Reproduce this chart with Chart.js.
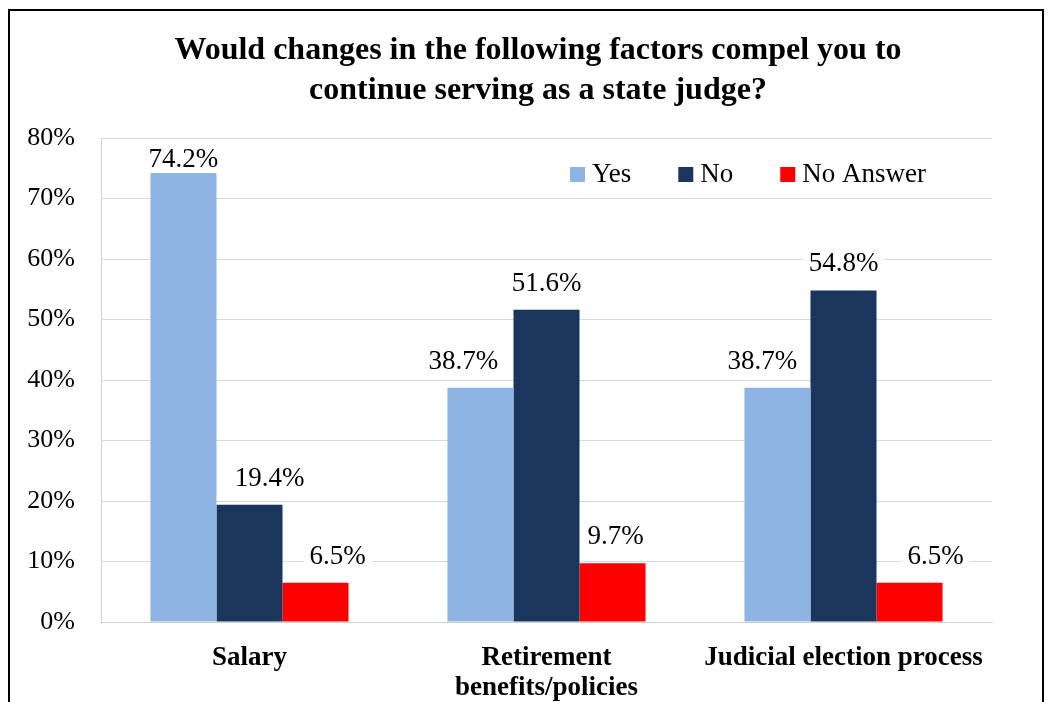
<!DOCTYPE html>
<html>
<head>
<meta charset="utf-8">
<script src="https://cdn.jsdelivr.net/npm/chart.js@4.4.1/dist/chart.umd.min.js"></script>
<style>
  html, body { margin: 0; padding: 0; background: #fff; overflow: hidden; }
  #wrap { position: absolute; left: 0; top: 0; width: 1054px; height: 702px; }
  #frame { position: absolute; left: 8px; top: 9px; width: 1032px; height: 720px; border: 2px solid #000; pointer-events: none; }
</style>
</head>
<body>
<div id="wrap"><canvas id="myChart" width="1054" height="702"></canvas></div>
<div id="frame"></div>
<script>
// data
const categories = ['Salary', ['Retirement', 'benefits/policies'], 'Judicial election process'];
const yesValues = [74.2, 38.7, 38.7];
const noValues = [19.4, 51.6, 54.8];
const noAnswerValues = [6.5, 9.7, 6.5];
const seriesNames = ['Yes', 'No', 'No Answer'];
const seriesColors = ['#8EB4E3', '#1B365D', '#FF0000'];
const yTicks = [0, 10, 20, 30, 40, 50, 60, 70, 80];

const serif = '"Liberation Serif", "Times New Roman", serif';

// label nudges (px) like the hand-moved excel labels
const labelShift = [[0, -17, -15], [20, 0, 0], [22, 3, 26]];

function labelPos(chart, ctx, i, j) {
    const bar = chart.getDatasetMeta(i).data[j];
    const txt = chart.data.datasets[i].data[j].toFixed(1) + '%';
    const w = ctx.measureText(txt).width;
    const x = bar.x + labelShift[i][j];
    const y = Math.max(bar.y - 19, chart.chartArea.top + 29);
    return { txt, w, x, y };
}

// title sits a bit right of the canvas centre in the original
const titleShift = {
    id: 'titleShift',
    afterLayout(chart) {
        if (chart.titleBlock) {
            chart.titleBlock.left = 84;
            chart.titleBlock.right = 992;
        }
    }
};

// value labels, white box first (hides gridline), text after bars
const valueLabels = {
    id: 'valueLabels',
    beforeDatasetsDraw(chart) {
        const ctx = chart.ctx;
        ctx.save();
        ctx.font = '27px ' + serif;
        ctx.fillStyle = '#fff';
        chart.data.datasets.forEach((ds, i) => {
            ds.data.forEach((v, j) => {
                const p = labelPos(chart, ctx, i, j);
                ctx.fillRect(p.x - p.w / 2 - 6, p.y - 22, p.w + 12, 28);
            });
        });
        ctx.restore();
    },
    afterDatasetsDraw(chart) {
        const ctx = chart.ctx;
        ctx.save();
        ctx.font = '27px ' + serif;
        ctx.textAlign = 'center';
        ctx.textBaseline = 'alphabetic';
        ctx.fillStyle = '#000';
        chart.data.datasets.forEach((ds, i) => {
            ds.data.forEach((v, j) => {
                const p = labelPos(chart, ctx, i, j);
                ctx.fillText(p.txt, p.x, p.y);
            });
        });
        ctx.restore();
    }
};

// legend inside the plot, top right
const innerLegend = {
    id: 'innerLegend',
    afterDraw(chart) {
        const ctx = chart.ctx;
        const area = chart.chartArea;
        ctx.save();
        ctx.font = '27px ' + serif;
        ctx.textBaseline = 'middle';
        let x = area.left + 469;
        const y = area.top + 36;
        seriesNames.forEach((name, i) => {
            ctx.fillStyle = seriesColors[i];
            ctx.fillRect(x, y - 7, 15, 15);
            ctx.fillStyle = '#000';
            ctx.fillText(name, x + 22, y + 1);
            x += 22 + ctx.measureText(name).width + 47;
        });
        ctx.restore();
    }
};

const ctx = document.getElementById('myChart').getContext('2d');
const myBarChart = new Chart(ctx, {
    type: 'bar',
    data: {
        labels: categories,
        datasets: [
            { label: seriesNames[0], data: yesValues, backgroundColor: seriesColors[0] },
            { label: seriesNames[1], data: noValues, backgroundColor: seriesColors[1] },
            { label: seriesNames[2], data: noAnswerValues, backgroundColor: seriesColors[2] }
        ]
    },
    options: {
        responsive: false,
        animation: false,
        layout: { padding: { left: 0, right: 62, top: 0, bottom: 0 } },
        datasets: { bar: { categoryPercentage: 0.667, barPercentage: 1.0 } },
        plugins: {
            legend: { display: false },
            tooltip: { enabled: false },
            title: {
                display: true,
                text: ['Would changes in the following factors compel you to', 'continue serving as a state judge?'],
                color: '#000',
                font: { family: serif, size: 32, weight: 'bold', lineHeight: 1.25 },
                padding: { top: 31, bottom: 27 }
            }
        },
        scales: {
            x: {
                grid: { display: false, drawTicks: false },
                border: { display: true, color: '#D0D0D0', width: 1 },
                ticks: {
                    color: '#000',
                    font: { family: serif, size: 27, weight: 'bold', lineHeight: 1.12 },
                    padding: 21,
                    maxRotation: 0,
                    autoSkip: false
                },
                afterFit(scale) { scale.height = 80; }
            },
            y: {
                min: 0,
                max: 80,
                afterBuildTicks(scale) { scale.ticks = yTicks.map(v => ({ value: v })); },
                grid: { color: '#D9D9D9', lineWidth: 1, drawTicks: false },
                border: { display: true, color: '#D0D0D0', width: 1 },
                ticks: {
                    color: '#000',
                    font: { family: serif, size: 26 },
                    padding: 26,
                    callback: v => v + '%'
                },
                afterFit(scale) { scale.width = 101; }
            }
        }
    },
    plugins: [titleShift, valueLabels, innerLegend]
});
</script>
</body>
</html>
